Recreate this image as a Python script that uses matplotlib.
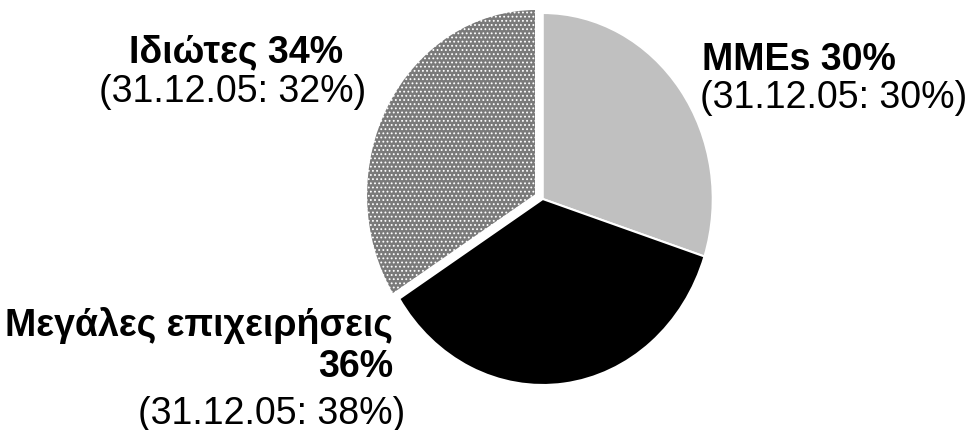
import matplotlib
matplotlib.use("Agg")
import matplotlib.pyplot as plt

# Data
categories = ["MMEs", "Μεγάλες επιχειρήσεις", "Ιδιώτες"]
values = [30, 36, 34]
previous = [30, 38, 32]
prev_date = "31.12.05"

plt.rcParams['font.family'] = ['Liberation Sans', 'DejaVu Sans']
plt.rcParams['hatch.color'] = 'white'
plt.rcParams['hatch.linewidth'] = 0.8

W, H = 975, 431
fig = plt.figure(figsize=(W / 100, H / 100), dpi=100)

# Pie axes (slightly stretched vertically like the reference)
cx, cy = 542.75, 200.0
rx, ry = 170.0, 186.0
lim = 1.1
ax = fig.add_axes([(cx - rx * lim) / W, (H - cy - ry * lim) / H,
                   2 * rx * lim / W, 2 * ry * lim / H])
colors = ['#c0c0c0', '#000000', '#7a7a7a']
explode = [0, 0, 0.045]
wedges, _ = ax.pie(values, colors=colors, startangle=90, counterclock=False,
                   explode=explode,
                   wedgeprops=dict(edgecolor='white', linewidth=1.5))
wedges[2].set_hatch('....')
ax.set_xlim(-lim, lim)
ax.set_ylim(-lim, lim)
ax.set_aspect('auto')
ax.axis('off')


def px(x, y):
    return x / W, 1 - y / H


FS = 27
labels = [f"{c} {v}%" for c, v in zip(categories, values)]
prev_labels = [f"({prev_date}: {p}%)" for p in previous]

# MMEs
fig.text(*px(702, 70), labels[0], fontsize=FS, fontweight='bold',
         ha='left', va='baseline')
fig.text(*px(700, 108), prev_labels[0], fontsize=FS,
         ha='left', va='baseline')
# Μεγάλες επιχειρήσεις
fig.text(*px(393, 336), categories[1], fontsize=FS, fontweight='bold',
         ha='right', va='baseline')
fig.text(*px(393, 377), f"{values[1]}%", fontsize=FS, fontweight='bold',
         ha='right', va='baseline')
fig.text(*px(405, 424), prev_labels[1], fontsize=FS,
         ha='right', va='baseline')
# Ιδιώτες
fig.text(*px(236, 62), labels[2], fontsize=FS, fontweight='bold',
         ha='center', va='baseline')
fig.text(*px(232.5, 102), prev_labels[2], fontsize=FS,
         ha='center', va='baseline')

fig.savefig("out.png", dpi=100)
